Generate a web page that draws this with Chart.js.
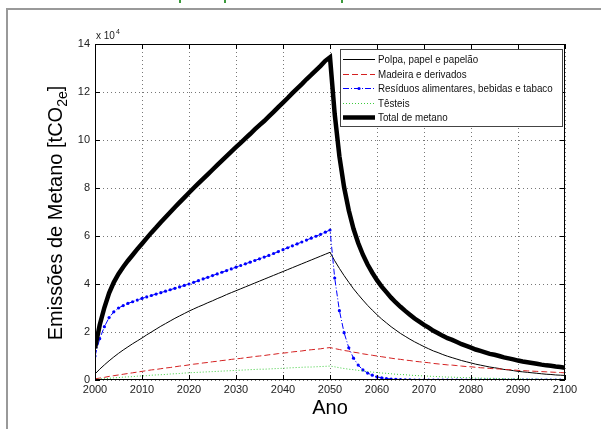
<!DOCTYPE html>
<html>
<head>
<meta charset="utf-8">
<script src="https://cdn.jsdelivr.net/npm/chart.js@4"></script>
<style>
  body { margin: 0; background: #fff; }
  #wrap { position: relative; width: 601px; height: 429px; overflow: hidden; }
  #frame { position: absolute; left: 6px; top: 8px; width: 700px; height: 500px;
           border-left: 2px solid #999; border-top: 2px solid #999; }
  .g { position: absolute; top: 0; width: 2px; height: 3px; background: #3c9a3c; }
  canvas { position: absolute; left: 0; top: 0; }
</style>
</head>
<body>
<div id="wrap">
  <div id="frame"></div>
  <div class="g" style="left:179px"></div>
  <div class="g" style="left:224px"></div>
  <div class="g" style="left:341px"></div>
  <canvas id="emissions-chart-canvas" width="601" height="429"></canvas>
</div>
<script>
/**
 * Values in units of 10^4 tCO2e, one per year from 2000 to 2100
 */
const YEARS = Array.from({ length: 101 }, (_, i) => 2000 + i);

const polpa = [
  0.25, 0.45, 0.63, 0.80, 0.96, 1.11, 1.25, 1.38, 1.51, 1.63,
  1.75, 1.88, 2.00, 2.12, 2.24, 2.35, 2.46, 2.57, 2.67, 2.77,
  2.87, 2.96, 3.05, 3.13, 3.22, 3.30, 3.39, 3.47, 3.56, 3.64,
  3.72, 3.80, 3.88, 3.96, 4.04, 4.12, 4.20, 4.28, 4.36, 4.44,
  4.52, 4.60, 4.68, 4.76, 4.84, 4.92, 5.00, 5.08, 5.16, 5.24,
  5.32, 4.97, 4.65, 4.35, 4.07, 3.80, 3.56, 3.33, 3.11, 2.91,
  2.72, 2.54, 2.38, 2.22, 2.08, 1.94, 1.82, 1.70, 1.59, 1.49,
  1.39, 1.30, 1.21, 1.14, 1.06, 0.99, 0.93, 0.87, 0.81, 0.76,
  0.71, 0.66, 0.62, 0.58, 0.54, 0.51, 0.48, 0.44, 0.42, 0.39,
  0.36, 0.34, 0.32, 0.30, 0.28, 0.26, 0.24, 0.23, 0.21, 0.20,
  0.19
];

const madeira = [
  0.05, 0.08, 0.11, 0.15, 0.18, 0.21, 0.24, 0.27, 0.30, 0.33,
  0.36, 0.39, 0.42, 0.44, 0.47, 0.50, 0.52, 0.55, 0.58, 0.60,
  0.63, 0.66, 0.68, 0.71, 0.73, 0.76, 0.78, 0.81, 0.83, 0.86,
  0.88, 0.90, 0.93, 0.95, 0.98, 1.00, 1.02, 1.05, 1.07, 1.10,
  1.12, 1.14, 1.17, 1.19, 1.21, 1.24, 1.26, 1.28, 1.30, 1.33,
  1.35, 1.31, 1.27, 1.23, 1.20, 1.16, 1.13, 1.09, 1.06, 1.03,
  1.00, 0.97, 0.94, 0.91, 0.88, 0.86, 0.83, 0.81, 0.78, 0.76,
  0.74, 0.72, 0.69, 0.67, 0.65, 0.63, 0.62, 0.60, 0.58, 0.56,
  0.55, 0.53, 0.51, 0.50, 0.48, 0.47, 0.46, 0.44, 0.43, 0.42,
  0.40, 0.39, 0.38, 0.37, 0.36, 0.35, 0.34, 0.33, 0.32, 0.31,
  0.30
];

const residuos = [
  1.00, 1.72, 2.22, 2.60, 2.84, 3.00, 3.10, 3.19, 3.26, 3.33,
  3.40, 3.46, 3.52, 3.58, 3.64, 3.70, 3.76, 3.82, 3.88, 3.94,
  4.00, 4.07, 4.14, 4.21, 4.28, 4.35, 4.42, 4.49, 4.56, 4.63,
  4.70, 4.77, 4.84, 4.91, 4.98, 5.05, 5.12, 5.19, 5.27, 5.35,
  5.43, 5.51, 5.59, 5.67, 5.75, 5.83, 5.91, 5.99, 6.07, 6.16,
  6.25, 4.25, 2.89, 1.97, 1.34, 0.91, 0.62, 0.42, 0.29, 0.20,
  0.13, 0.09, 0.06, 0.04, 0.03, 0.02, 0.01, 0.01, 0.00, 0.00,
  0.00, 0.00, 0.00, 0.00, 0.00, 0.00, 0.00, 0.00, 0.00, 0.00,
  0.00, 0.00, 0.00, 0.00, 0.00, 0.00, 0.00, 0.00, 0.00, 0.00,
  0.00, 0.00, 0.00, 0.00, 0.00, 0.00, 0.00, 0.00, 0.00, 0.00,
  0.00
];

const texteis = [
  0.02, 0.04, 0.06, 0.07, 0.09, 0.10, 0.12, 0.13, 0.14, 0.16,
  0.17, 0.18, 0.20, 0.21, 0.22, 0.23, 0.25, 0.26, 0.27, 0.29,
  0.30, 0.31, 0.32, 0.33, 0.34, 0.35, 0.36, 0.37, 0.38, 0.39,
  0.40, 0.41, 0.42, 0.43, 0.44, 0.45, 0.45, 0.46, 0.47, 0.48,
  0.49, 0.50, 0.51, 0.52, 0.53, 0.54, 0.54, 0.55, 0.56, 0.57,
  0.58, 0.55, 0.51, 0.48, 0.45, 0.43, 0.40, 0.38, 0.35, 0.33,
  0.31, 0.29, 0.28, 0.26, 0.24, 0.23, 0.22, 0.20, 0.19, 0.18,
  0.17, 0.16, 0.15, 0.14, 0.13, 0.12, 0.12, 0.11, 0.10, 0.10,
  0.09, 0.08, 0.08, 0.07, 0.07, 0.07, 0.06, 0.06, 0.05, 0.05,
  0.05, 0.04, 0.04, 0.04, 0.04, 0.03, 0.03, 0.03, 0.03, 0.03,
  0.02
];

const total = [
  1.32, 2.29, 3.02, 3.62, 4.07, 4.42, 4.71, 4.97, 5.21, 5.45,
  5.68, 5.91, 6.14, 6.35, 6.57, 6.78, 6.99, 7.20, 7.40, 7.60,
  7.80, 8.00, 8.19, 8.38, 8.57, 8.76, 8.95, 9.14, 9.33, 9.52,
  9.70, 9.88, 10.07, 10.25, 10.44, 10.62, 10.79, 10.98, 11.17, 11.37,
  11.56, 11.75, 11.95, 12.14, 12.33, 12.53, 12.71, 12.90, 13.09, 13.30,
  13.45, 11.08, 9.32, 8.03, 7.06, 6.30, 5.71, 5.22, 4.81, 4.47,
  4.16, 3.89, 3.66, 3.43, 3.23, 3.05, 2.88, 2.72, 2.56, 2.43,
  2.30, 2.18, 2.05, 1.95, 1.84, 1.74, 1.67, 1.58, 1.49, 1.42,
  1.35, 1.27, 1.21, 1.15, 1.09, 1.05, 1.00, 0.94, 0.90, 0.86,
  0.81, 0.77, 0.74, 0.71, 0.68, 0.64, 0.61, 0.59, 0.56, 0.54,
  0.51
];

const SERIES_NAMES = [
  'Polpa, papel e papelão',
  'Madeira e derivados',
  'Resíduos alimentares, bebidas e tabaco',
  'Têsteis',
  'Total de metano'
];

const X_MIN = 2000, X_MAX = 2100, X_STEP = 10;
const Y_MIN = 0, Y_MAX = 14, Y_STEP = 2;

const FONT = '"Liberation Sans", Arial, sans-serif';

function toPoints(values) {
  return values.map((v, i) => ({ x: YEARS[i], y: v }));
}

/**
 * Axis box, inner ticks, titles and the boxed legend (MATLAB look)
 */
const matlabDecor = {
  id: 'matlabDecor',
  afterDraw(chart) {
    const { ctx, chartArea: a, scales: { x, y } } = chart;
    ctx.save();

    // box
    ctx.strokeStyle = '#000';
    ctx.lineWidth = 1;
    ctx.setLineDash([]);
    ctx.strokeRect(Math.round(a.left) + 0.5, Math.round(a.top) + 0.5,
      Math.round(a.width) - 1, Math.round(a.height) - 1);

    // inner ticks
    ctx.beginPath();
    x.ticks.forEach(t => {
      const px = Math.round(x.getPixelForValue(t.value)) + 0.5;
      ctx.moveTo(px, a.bottom); ctx.lineTo(px, a.bottom - 5);
      ctx.moveTo(px, a.top); ctx.lineTo(px, a.top + 5);
    });
    y.ticks.forEach(t => {
      const py = Math.round(y.getPixelForValue(t.value)) + 0.5;
      ctx.moveTo(a.left, py); ctx.lineTo(a.left + 5, py);
      ctx.moveTo(a.right, py); ctx.lineTo(a.right - 5, py);
    });
    ctx.stroke();

    // exponent
    ctx.fillStyle = '#222';
    ctx.textBaseline = 'alphabetic';
    ctx.textAlign = 'left';
    ctx.font = '10px ' + FONT;
    ctx.fillText('x 10', a.left + 1, a.top - 5);
    const ew = ctx.measureText('x 10').width;
    ctx.font = '7px ' + FONT;
    ctx.fillText('4', a.left + 1 + ew + 1, a.top - 10);

    // x title
    ctx.fillStyle = '#000';
    ctx.font = '20px ' + FONT;
    ctx.textAlign = 'center';
    ctx.fillText('Ano', (a.left + a.right) / 2, 414);

    // y title with subscript
    ctx.save();
    ctx.translate(62, 213);
    ctx.rotate(-Math.PI / 2);
    ctx.textAlign = 'left';
    const big = '20px ' + FONT;
    const small = '14px ' + FONT;
    const p1 = 'Emissões de Metano [tCO', p2 = '2e', p3 = ']';
    ctx.font = big; const w1 = ctx.measureText(p1).width; const w3 = ctx.measureText(p3).width;
    ctx.font = small; const w2 = ctx.measureText(p2).width;
    const sx = -(w1 + w2 + w3) / 2;
    ctx.font = big; ctx.fillText(p1, sx, 0);
    ctx.font = small; ctx.fillText(p2, sx + w1, 5);
    ctx.font = big; ctx.fillText(p3, sx + w1 + w2, 0);
    ctx.restore();

    // legend
    const lx = 340, ly = 49, lw = 222, lh = 77;
    ctx.fillStyle = '#fff';
    ctx.fillRect(lx, ly, lw, lh);
    ctx.strokeStyle = '#444';
    ctx.lineWidth = 1;
    ctx.strokeRect(lx + 0.5, ly + 0.5, lw, lh);
    chart.data.datasets.forEach((ds, i) => {
      const ry = Math.round(ly + 10 + i * 14.5) + 0.5;
      ctx.strokeStyle = ds.borderColor;
      ctx.lineWidth = ds.borderWidth;
      ctx.setLineDash(ds.borderDash || []);
      ctx.beginPath();
      ctx.moveTo(lx + 3, ry);
      ctx.lineTo(lx + 35, ry);
      ctx.stroke();
      ctx.setLineDash([]);
      if (ds.pointRadius > 0) {
        ctx.fillStyle = ds.pointBackgroundColor;
        ctx.beginPath();
        ctx.arc(lx + 19, ry, ds.pointRadius, 0, Math.PI * 2);
        ctx.fill();
      }
      // narrow the label a little, like the small MATLAB screen font
      ctx.save();
      ctx.translate(lx + 38, ry);
      ctx.scale(0.89, 1);
      ctx.font = '11px ' + FONT;
      ctx.textAlign = 'left';
      ctx.textBaseline = 'middle';
      ctx.fillStyle = '#111';
      ctx.fillText(ds.label, 0, 0);
      ctx.restore();
    });

    ctx.restore();
  }
};

const ctx = document.getElementById('emissions-chart-canvas');
const emissionsChart = new Chart(ctx, {
  type: 'line',
  data: {
    datasets: [
      { label: SERIES_NAMES[0], data: toPoints(polpa), borderColor: '#000', borderWidth: 1,
        pointRadius: 0, order: 4 },
      { label: SERIES_NAMES[1], data: toPoints(madeira), borderColor: '#d42020', borderWidth: 1,
        borderDash: [6, 3], pointRadius: 0, order: 3 },
      { label: SERIES_NAMES[2], data: toPoints(residuos), borderColor: '#0000ff', borderWidth: 1,
        borderDash: [6, 2, 1, 2], pointRadius: 1.6, pointBackgroundColor: '#0000ff',
        pointBorderWidth: 0, order: 2 },
      { label: SERIES_NAMES[3], data: toPoints(texteis), borderColor: '#3ccc3c', borderWidth: 1,
        borderDash: [1, 2], pointRadius: 0, order: 1 },
      { label: SERIES_NAMES[4], data: toPoints(total), borderColor: '#000', borderWidth: 4.5,
        pointRadius: 0, order: 0, borderJoinStyle: 'miter' }
    ]
  },
  options: {
    responsive: false,
    animation: false,
    devicePixelRatio: 1,
    layout: { padding: { left: 55, right: 36, top: 44, bottom: 0 } },
    plugins: { legend: { display: false }, tooltip: { enabled: false } },
    elements: { line: { tension: 0, borderCapStyle: 'butt' } },
    scales: {
      x: {
        type: 'linear', min: X_MIN, max: X_MAX,
        ticks: { stepSize: X_STEP, color: '#222', padding: 3,
                 font: { size: 11, family: FONT },
                 callback: v => String(v), maxRotation: 0 },
        grid: { color: '#777', drawTicks: false },
        border: { display: false, dash: [1, 3] },
        afterFit: s => { s.height = 49; }
      },
      y: {
        min: Y_MIN, max: Y_MAX,
        ticks: { stepSize: Y_STEP, color: '#222', padding: 5,
                 font: { size: 11, family: FONT } },
        grid: { color: '#777', drawTicks: false },
        border: { display: false, dash: [1, 3] },
        afterFit: s => { s.width = 40; }
      }
    }
  },
  plugins: [matlabDecor]
});
</script>
</body>
</html>
